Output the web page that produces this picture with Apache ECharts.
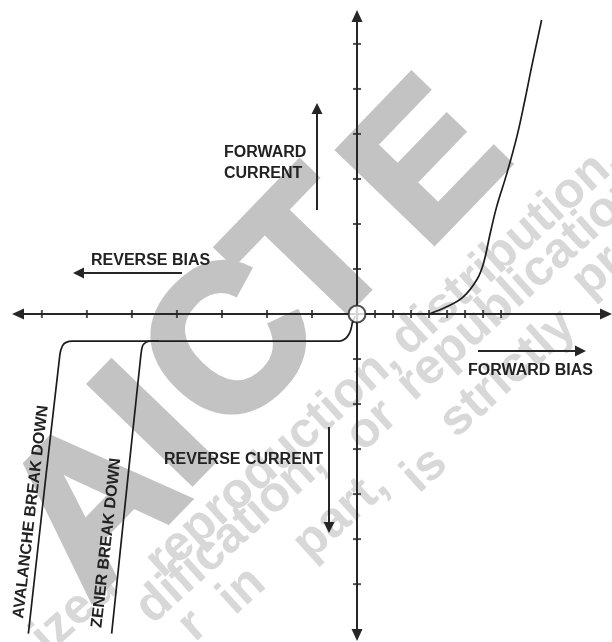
<!DOCTYPE html>
<html><head><meta charset="utf-8">
<script src="https://cdn.jsdelivr.net/npm/echarts@6/dist/echarts.min.js"></script>
<style>html,body{margin:0;padding:0;background:#fff}#c{width:612px;height:642px}</style>
</head><body><div id="c"></div>
<script>
// ---- data (axis units) ----
const xTicks = [-7, -6, -5, -4, -3, -2, -1, 0.4, 0.8, 1.2, 1.6, 2.0, 2.4, 2.8, 3.2];
const yTicks = [-6, -5, -4, -3, -2, -1, 1, 2, 3, 4, 5, 6];
const forwardV = [1.6, 1.99, 2.36, 2.66, 2.81, 2.96, 3.10, 3.33, 3.55, 3.73, 3.88, 4.10];
const forwardI = [0.0, 0.16, 0.38, 0.76, 1.13, 1.80, 2.38, 3.13, 3.94, 4.76, 5.50, 6.53];
const avalancheV = [-0.04, -0.10, -0.13, -0.18, -0.26, -0.38, -6.33, -6.46, -6.54, -6.60, -7.30];
const avalancheI = [-0.05, -0.18, -0.32, -0.45, -0.55, -0.60, -0.60, -0.63, -0.70, -0.90, -7.10];
const zenerV = [-4.40, -4.60, -4.69, -4.76, -4.80, -5.45];
const zenerI = [-0.60, -0.60, -0.63, -0.70, -0.90, -7.10];

const zip = (a, b) => a.map((v, i) => [v, b[i]]);
const INK = '#262626';
const FONT = '"Liberation Sans", Arial, sans-serif';

const chart = echarts.init(document.getElementById('c'), null, {renderer: 'canvas'});

function label(text, x, y, size, rot) {
  return {type: 'text', x: x, y: y, rotation: rot || 0, z: 20,
    style: {text: text, x: 0, y: 0, fill: '#222', font: 'bold ' + size + 'px ' + FONT,
      textAlign: rot ? 'center' : 'left', align: rot ? 'center' : 'left',
      textVerticalAlign: 'middle', verticalAlign: 'middle'}};
}
function arrow(x1, y1, x2, y2) {
  const dx = x2 - x1, dy = y2 - y1, L = Math.hypot(dx, dy);
  const ux = dx / L, uy = dy / L, hl = 11, hw = 5.5;
  const bx = x2 - ux * hl, by = y2 - uy * hl;
  return [
    {type: 'line', z: 20, shape: {x1: x1, y1: y1, x2: bx, y2: by}, style: {stroke: INK, lineWidth: 2}},
    {type: 'polygon', z: 20, shape: {points: [[x2, y2], [bx - uy * hw, by + ux * hw], [bx + uy * hw, by - ux * hw]]}, style: {fill: INK}}
  ];
}
const WM = '#c3c3c3';
function bigLetter(ch, x, y, size) {
  return {type: 'text', x: x, y: y, rotation: 46 * Math.PI / 180, z: -10, silent: true,
    style: {text: ch, x: 0, y: 0, fill: WM, stroke: WM, lineWidth: 7, font: 'bold ' + size + 'px ' + FONT,
      textAlign: 'center', align: 'center', textVerticalAlign: 'middle', verticalAlign: 'middle'}};
}
const FW = '#d8d8d8';
function faint(t, x, y) {
  return {type: 'text', x: x, y: y, rotation: 42 * Math.PI / 180, z: -12, silent: true,
    style: {text: t, x: 0, y: 0, fill: FW, font: 'bold 50px ' + FONT,
      textAlign: 'center', align: 'center', textVerticalAlign: 'middle', verticalAlign: 'middle'}};
}

const graphics = [].concat(
  [faint('ized', 75, 612), faint('reproduction,', 273, 461), faint('distribution,', 506, 250),
   faint('dification,', 231, 536), faint('or', 372, 426), faint('republication,', 526, 282),
   faint('r', 193, 626), faint('in', 242, 591), faint('part,', 341, 515), faint('is', 425, 470),
   faint('strictly', 508, 374), faint('pr', 598, 272)],
  [bigLetter('A', 100, 510, 205), bigLetter('I', 162, 432, 205), bigLetter('C', 236, 350, 205),
   bigLetter('T', 318, 262, 200), bigLetter('E', 432, 168, 192)],
  [label('FORWARD', 224, 153, 16), label('CURRENT', 224, 174, 16),
   label('REVERSE BIAS', 91, 260.5, 16), label('FORWARD BIAS', 468, 371, 16),
   label('REVERSE CURRENT', 164, 460, 16),
   label('AVALANCHE BREAK DOWN', 31, 512, 16, 83.4 * Math.PI / 180),
   label('ZENER BREAK DOWN', 106.5, 543, 16, 83.6 * Math.PI / 180)],
  arrow(317, 210, 317, 103), arrow(182, 273, 73, 273),
  arrow(478, 351, 586, 351), arrow(329, 427, 329, 533)
);

const axisCommon = {
  type: 'value',
  axisLine: {show: true, onZero: true, symbol: ['triangle', 'triangle'], symbolSize: [11, 12],
    lineStyle: {color: INK, width: 2}},
  axisTick: {show: false}, axisLabel: {show: false}, splitLine: {show: false}
};

chart.setOption({
  animation: false,
  backgroundColor: '#fff',
  grid: {left: 18, right: 6, top: 16, bottom: 7, containLabel: false},
  xAxis: Object.assign({}, axisCommon, {min: -7.53, max: 5.53}),
  yAxis: Object.assign({}, axisCommon, {min: -7.13, max: 6.62}),
  graphic: {elements: graphics},
  series: [
    {type: 'scatter', silent: true, symbol: 'rect', symbolSize: [2, 8], z: 3,
      itemStyle: {color: INK}, data: xTicks.map(v => [v, 0])},
    {type: 'scatter', silent: true, symbol: 'rect', symbolSize: [8, 2], z: 3,
      itemStyle: {color: INK}, data: yTicks.map(v => [0, v])},
    {type: 'line', name: 'Forward', smooth: 0.4, showSymbol: false, silent: true, z: 4,
      lineStyle: {color: '#1c1c1c', width: 1.7}, data: zip(forwardV, forwardI)},
    {type: 'line', name: 'Avalanche', smooth: 0.3, showSymbol: false, silent: true, z: 4,
      lineStyle: {color: '#1c1c1c', width: 1.7}, data: zip(avalancheV, avalancheI)},
    {type: 'line', name: 'Zener', smooth: 0.3, showSymbol: false, silent: true, z: 4,
      lineStyle: {color: '#1c1c1c', width: 1.7}, data: zip(zenerV, zenerI)},
    {type: 'scatter', silent: true, symbol: 'circle', symbolSize: 17, z: 6,
      itemStyle: {color: '#fff', borderColor: INK, borderWidth: 2}, data: [[0, 0]]}
  ]
});
</script>
</body></html>
